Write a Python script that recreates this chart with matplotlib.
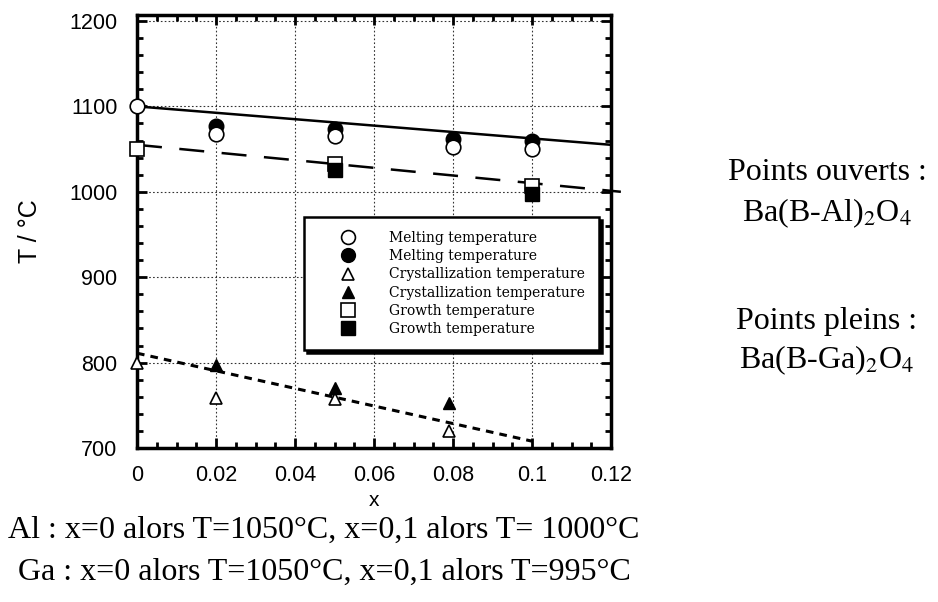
import matplotlib
matplotlib.use("Agg")
import matplotlib.pyplot as plt
from matplotlib.ticker import MultipleLocator

# Data
melt_al_x = [0.0, 0.02, 0.05, 0.08, 0.10]
melt_al_T = [1100, 1068, 1065, 1053, 1050]
melt_ga_x = [0.02, 0.05, 0.08, 0.10]
melt_ga_T = [1077, 1073, 1062, 1060]
cryst_al_x = [0.0, 0.02, 0.05, 0.079]
cryst_al_T = [800, 759, 757, 720]
cryst_ga_x = [0.02, 0.05, 0.079]
cryst_ga_T = [797, 770, 753]
growth_al_x = [0.0, 0.05, 0.10]
growth_al_T = [1050, 1033, 1007]
growth_ga_x = [0.05, 0.10]
growth_ga_T = [1025, 997]

# Fit lines (end points)
solid_x = [0.0, 0.12]
solid_T = [1100, 1055]
longdash_x = [0.0, 0.1225]
longdash_T = [1055, 1000]
shortdash_x = [0.0, 0.10]
shortdash_T = [811, 708]

legend_labels = ["Melting temperature", "Melting temperature",
                 "Crystallization temperature", "Crystallization temperature",
                 "Growth temperature", "Growth temperature"]

fig = plt.figure(figsize=(9.38, 6.02), dpi=100)
ax = fig.add_axes([137/938, 1-448/602, 474/938, 433/602])

ax.plot(solid_x, solid_T, color="black", lw=1.8, zorder=2)
ax.plot(longdash_x, longdash_T, color="black", lw=1.8, dashes=(10, 7), zorder=2, clip_on=False)
ax.plot(shortdash_x, shortdash_T, color="black", lw=2.2, dashes=(2.5, 2), zorder=2)

h1, = ax.plot(melt_al_x, melt_al_T, ls="none", marker="o", ms=10.5, mfc="white", mec="black", mew=1.2, clip_on=False, zorder=4)
h2, = ax.plot(melt_ga_x, melt_ga_T, ls="none", marker="o", ms=10.5, mfc="black", mec="black", clip_on=False, zorder=3)
h3, = ax.plot(cryst_al_x, cryst_al_T, ls="none", marker="^", ms=9, mfc="white", mec="black", mew=1.2, clip_on=False, zorder=4)
h4, = ax.plot(cryst_ga_x, cryst_ga_T, ls="none", marker="^", ms=9, mfc="black", mec="black", clip_on=False, zorder=4)
h5, = ax.plot(growth_al_x, growth_al_T, ls="none", marker="s", ms=10, mfc="white", mec="black", mew=1.2, clip_on=False, zorder=3)
h6, = ax.plot(growth_ga_x, growth_ga_T, ls="none", marker="s", ms=10, mfc="black", mec="black", clip_on=False, zorder=4)

ax.set_xlim(0, 0.12)
ax.set_ylim(700, 1207)
ax.set_xticks([0, 0.02, 0.04, 0.06, 0.08, 0.1, 0.12])
ax.set_xticklabels(["0", "0.02", "0.04", "0.06", "0.08", "0.1", "0.12"])
ax.set_yticks([700, 800, 900, 1000, 1100, 1200])
ax.xaxis.set_minor_locator(MultipleLocator(0.005))
ax.yaxis.set_minor_locator(MultipleLocator(20))
ax.tick_params(which="both", direction="in", top=True, right=True, width=2)
ax.tick_params(which="major", length=7, labelsize=15.5)
ax.tick_params(axis="x", which="major", pad=12)
ax.tick_params(axis="y", which="major", pad=14)
ax.tick_params(which="minor", length=4)
for lab in ax.get_xticklabels() + ax.get_yticklabels():
    lab.set_family("Liberation Sans")
for sp in ax.spines.values():
    sp.set_linewidth(2.5)
ax.grid(True, which="major", ls=(0, (1.5, 2)), color="black", lw=0.8, alpha=0.8)

ax.set_xlabel("x", fontsize=15, family="Liberation Sans", labelpad=4)
ax.set_ylabel("T / °C", fontsize=18, family="Liberation Sans", labelpad=20)

leg = ax.legend([h1, h2, h3, h4, h5, h6], legend_labels,
                loc="upper left", bbox_to_anchor=(0.353, 0.533),
                prop={"family": "DejaVu Serif", "size": 10},
                frameon=True, fancybox=False, shadow={"color": "black", "alpha": 1},
                labelspacing=0.3, handletextpad=0.8, borderpad=1.0,
                handlelength=4.3, markerscale=0.95, borderaxespad=0)
leg.get_frame().set_linewidth(1.8)
leg.get_frame().set_edgecolor("black")
leg.set_zorder(5)

serif = "Liberation Serif"
fig.text(8/938, 1-530/602, "Al : x=0 alors T=1050°C, x=0,1 alors T= 1000°C",
         fontsize=23, family=serif, va="center", ha="left")
fig.text(18/938, 1-572/602, "Ga : x=0 alors T=1050°C, x=0,1 alors T=995°C",
         fontsize=23, family=serif, va="center", ha="left")

fig.text(827/938, 1-173/602, "Points ouverts :", fontsize=23, family=serif, ha="center", va="center")
fig.text(827/938, 1-213/602, r"Ba(B-Al)$_2$O$_4$", fontsize=23, family=serif, ha="center", va="center",
         math_fontfamily="stix")
fig.text(827/938, 1-322/602, "Points pleins :", fontsize=23, family=serif, ha="center", va="center")
fig.text(827/938, 1-360/602, r"Ba(B-Ga)$_2$O$_4$", fontsize=23, family=serif, ha="center", va="center",
         math_fontfamily="stix")

fig.savefig("out.png", dpi=100)
